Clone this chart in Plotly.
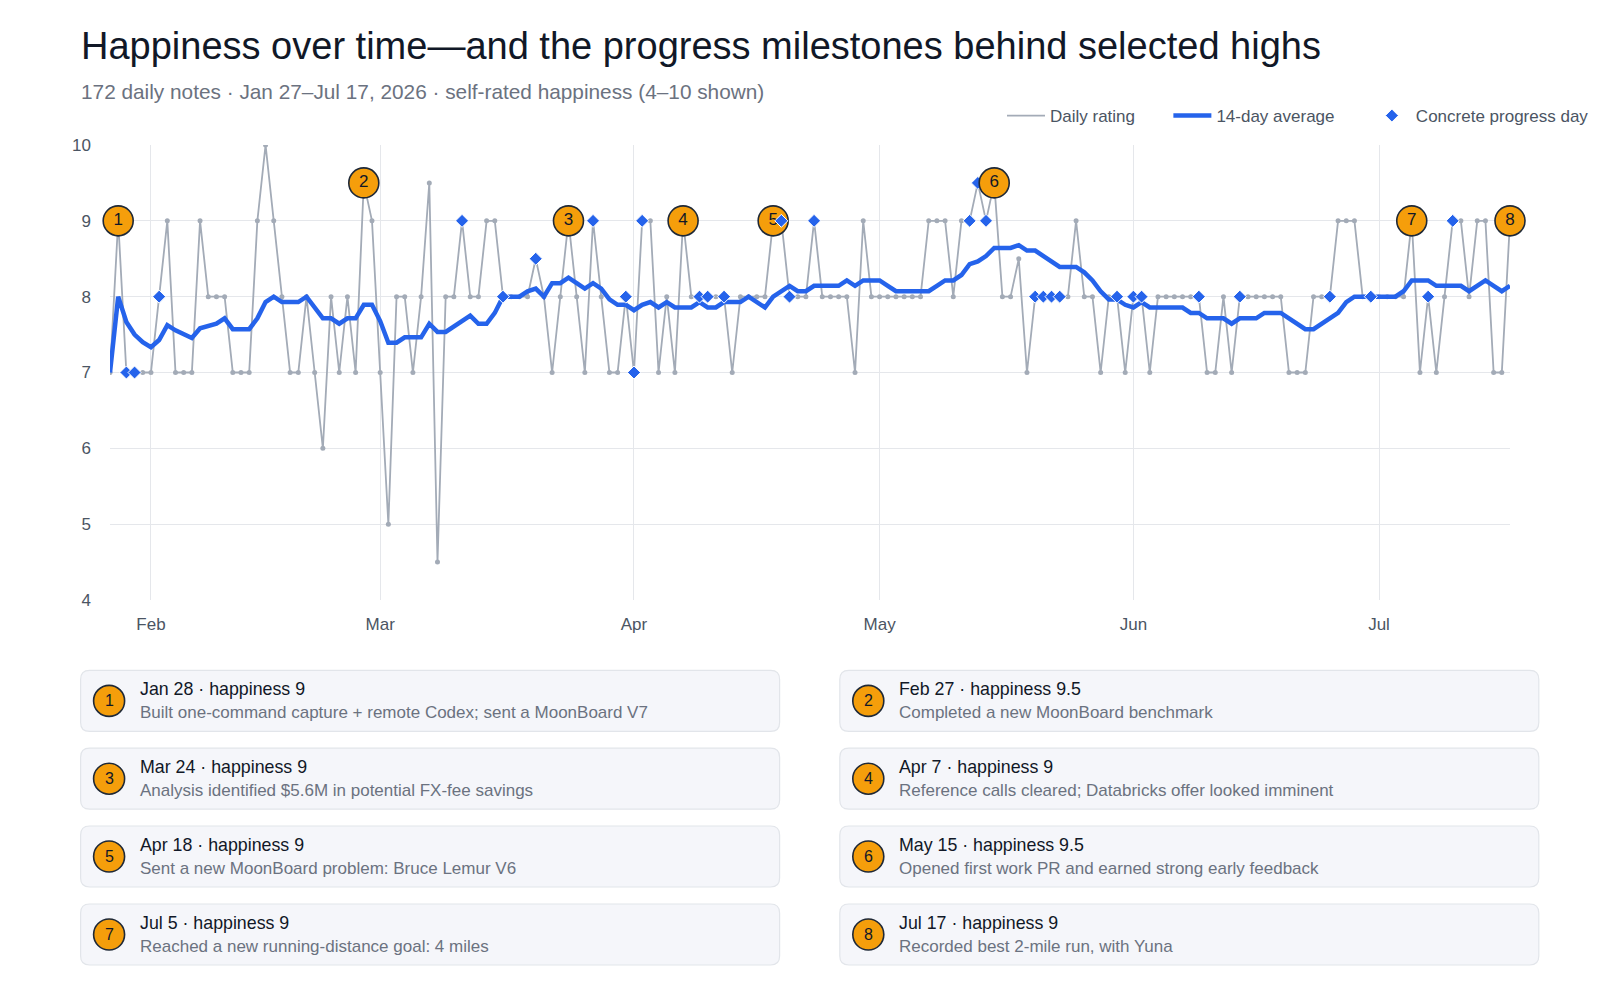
import pandas as pd
import plotly.graph_objects as go

# ---------------- data ----------------
start_date = "2026-01-27"
daily_rating = [
    7, 9, 7, 7, 7, 7, 8, 9, 7, 7,
    7, 9, 8, 8, 8, 7, 7, 7, 9, 10,
    9, 8, 7, 7, 8, 7, 6, 8, 7, 8,
    7, 9.5, 9, 7, 5, 8, 8, 7, 8, 9.5,
    4.5, 8, 8, 9, 8, 8, 9, 9, 8, 8,
    8, 8, 8.5, 8, 7, 8, 9, 8, 7, 9,
    8, 7, 7, 8, 7, 9, 9, 7, 8, 7,
    9, 8, 8, 8, 8, 8, 7, 8, 8, 8,
    8, 9, 9, 8, 8, 8, 9, 8, 8, 8,
    8, 7, 9, 8, 8, 8, 8, 8, 8, 8,
    9, 9, 9, 8, 9, 9, 9.5, 9, 9.5, 8,
    8, 8.5, 7, 8, 8, 8, 8, 8, 9, 8,
    8, 7, 8, 8, 7, 8, 8, 7, 8, 8,
    8, 8, 8, 8, 7, 7, 8, 7, 8, 8,
    8, 8, 8, 8, 7, 7, 7, 8, 8, 8,
    9, 9, 9, 8, 8, 8, 8, 8, 8, 9,
    7, 8, 7, 8, 9, 9, 8, 9, 9, 7,
    7, 9,
]
progress_days = [
    "2026-01-29", "2026-01-30", "2026-02-02", "2026-03-11", "2026-03-16",
    "2026-03-20", "2026-03-27", "2026-03-31", "2026-04-01", "2026-04-02",
    "2026-04-09", "2026-04-10", "2026-04-12", "2026-04-19", "2026-04-20",
    "2026-04-23", "2026-05-12", "2026-05-13", "2026-05-14", "2026-05-20",
    "2026-05-21", "2026-05-22", "2026-05-23", "2026-05-30", "2026-06-01",
    "2026-06-02", "2026-06-09", "2026-06-14", "2026-06-25", "2026-06-30",
    "2026-07-07", "2026-07-10",
]
milestone_dates = ["2026-01-28", "2026-02-27", "2026-03-24", "2026-04-07",
                   "2026-04-18", "2026-05-15", "2026-07-05", "2026-07-17"]
milestone_values = [9, 9.5, 9, 9, 9, 9.5, 9, 9]
milestone_labels = ["Jan 28", "Feb 27", "Mar 24", "Apr 7", "Apr 18", "May 15", "Jul 5", "Jul 17"]
milestone_notes = [
    "Built one-command capture + remote Codex; sent a MoonBoard V7",
    "Completed a new MoonBoard benchmark",
    "Analysis identified $5.6M in potential FX-fee savings",
    "Reference calls cleared; Databricks offer looked imminent",
    "Sent a new MoonBoard problem: Bruce Lemur V6",
    "Opened first work PR and earned strong early feedback",
    "Reached a new running-distance goal: 4 miles",
    "Recorded best 2-mile run, with Yuna",
]
y_ticks = [4, 5, 6, 7, 8, 9, 10]

# ---------------- derived ----------------
dates = pd.date_range(start_date, periods=len(daily_rating), freq="D")
s = pd.Series(daily_rating, index=dates)
avg14 = s.rolling(14, min_periods=1).mean()
prog_idx = pd.to_datetime(progress_days)
prog_vals = s.loc[prog_idx]
ms_x = pd.to_datetime(milestone_dates)
ms_text = [str(i + 1) for i in range(len(milestone_dates))]

FONT = "Liberation Sans, Arial, Helvetica, sans-serif"
W, H = 1600, 1000
L, R, T, B = 110, 1510, 145, 600  # plot area in px
NB = "\u00a0"


def px_x(px):
    return (px - L) / (R - L)


def px_y(py):
    return (B - py) / (B - T)


GRAY = "#A3ABB7"
BLUE = "#2563EB"
ORANGE = "#F59E0B"
DARK = "#1F2937"

fig = go.Figure()
fig.add_trace(go.Scatter(
    x=dates, y=daily_rating, mode="lines", name="Daily rating" + NB * 6,
    line=dict(color=GRAY, width=1.8), hoverinfo="skip",
))
fig.add_trace(go.Scatter(
    x=dates, y=daily_rating, mode="markers", showlegend=False,
    marker=dict(color=GRAY, size=5), hoverinfo="skip",
))
fig.add_trace(go.Scatter(
    x=dates, y=avg14.values, mode="lines", name="14-day average" + NB * 6,
    line=dict(color=BLUE, width=4.5),
))

ms_marker = dict(color=ORANGE, size=30, line=dict(color=DARK, width=1.6))
ms_font = dict(family=FONT, size=17, color="#111827")
# milestones 6-8 sit above the diamonds, 1-5 below (as in the source)
fig.add_trace(go.Scatter(
    x=ms_x[:5], y=milestone_values[:5], mode="markers+text", text=ms_text[:5],
    textposition="middle center", textfont=ms_font, marker=ms_marker,
    showlegend=False, cliponaxis=False,
))
fig.add_trace(go.Scatter(
    x=prog_idx, y=prog_vals.values, mode="markers", name="Concrete progress day",
    marker=dict(symbol="diamond", color=BLUE, size=10,
                line=dict(color="white", width=1)),
    cliponaxis=False,
))
fig.add_trace(go.Scatter(
    x=ms_x[5:], y=milestone_values[5:], mode="markers+text", text=ms_text[5:],
    textposition="middle center", textfont=ms_font, marker=ms_marker,
    showlegend=False, cliponaxis=False,
))

shapes = []
annotations = []

# title & subtitle
annotations.append(dict(
    text="Happiness over time\u2014and the progress milestones behind selected highs",
    xref="paper", yref="paper", x=px_x(79), y=px_y(46), xanchor="left", yanchor="middle",
    showarrow=False, font=dict(family=FONT, size=38, color="#111827"),
))
annotations.append(dict(
    text="172 daily notes \u00b7 Jan 27\u2013Jul 17, 2026 \u00b7 self-rated happiness (4\u201310 shown)",
    xref="paper", yref="paper", x=px_x(79), y=px_y(91), xanchor="left", yanchor="middle",
    showarrow=False, font=dict(family=FONT, size=20.8, color="#6B7280"),
))

# milestone cards
card_w = 699
card_h = 61
col_x = [80.6, 839.8]
row_y = [670.4, 748.2, 826.0, 904.0]
rad = 9
for k in range(len(milestone_dates)):
    cx0 = col_x[k % 2]
    cy0 = row_y[k // 2]
    cx1 = cx0 + card_w
    cy1 = cy0 + card_h
    x0, x1 = px_x(cx0), px_x(cx1)
    y0, y1 = px_y(cy0), px_y(cy1)
    rx = rad / (R - L)
    ry = rad / (B - T)
    path = (f"M{x0 + rx},{y0} L{x1 - rx},{y0} Q{x1},{y0} {x1},{y0 - ry} "
            f"L{x1},{y1 + ry} Q{x1},{y1} {x1 - rx},{y1} L{x0 + rx},{y1} "
            f"Q{x0},{y1} {x0},{y1 + ry} L{x0},{y0 - ry} Q{x0},{y0} {x0 + rx},{y0} Z")
    shapes.append(dict(type="path", path=path, xref="paper", yref="paper",
                       fillcolor="#F5F6FA", line=dict(color="#E2E5EA", width=1.2),
                       layer="below"))
    bx = cx0 + 28.5
    by = cy0 + card_h / 2
    shapes.append(dict(type="circle", xref="paper", yref="paper",
                       xsizemode="pixel", ysizemode="pixel",
                       xanchor=px_x(bx), yanchor=px_y(by),
                       x0=-15.5, x1=15.5, y0=-15.5, y1=15.5,
                       fillcolor=ORANGE, line=dict(color=DARK, width=1.6)))
    annotations.append(dict(
        text=str(k + 1), xref="paper", yref="paper", x=px_x(bx), y=px_y(by),
        xanchor="center", yanchor="middle", showarrow=False,
        font=dict(family=FONT, size=16, color="#111827"),
    ))
    annotations.append(dict(
        text=f"{milestone_labels[k]} \u00b7 happiness {milestone_values[k]:g}",
        xref="paper", yref="paper", x=px_x(cx0 + 57), y=px_y(cy0 + 19),
        xanchor="left", yanchor="middle", showarrow=False,
        font=dict(family=FONT, size=17.8, color="#111827"),
    ))
    annotations.append(dict(
        text=milestone_notes[k],
        xref="paper", yref="paper", x=px_x(cx0 + 57), y=px_y(cy0 + 42),
        xanchor="left", yanchor="middle", showarrow=False,
        font=dict(family=FONT, size=17, color="#6B7280"),
    ))

fig.update_layout(
    width=W, height=H,
    margin=dict(l=L, r=W - R, t=T, b=H - B, pad=0, autoexpand=False),
    paper_bgcolor="white", plot_bgcolor="white",
    font=dict(family=FONT, size=16.5, color="#4B5563"),
    showlegend=True,
    legend=dict(orientation="h", x=px_x(1002), y=px_y(116), xanchor="left", yanchor="middle",
                font=dict(family=FONT, size=17, color="#4B5563"),
                itemwidth=38,
                bgcolor="rgba(0,0,0,0)"),
    shapes=shapes,
    annotations=annotations,
    hovermode="closest",
)
fig.update_xaxes(
    range=[dates[0], dates[-1]], type="date",
    dtick="M1", tick0="2026-01-01", tickformat="%b",
    showgrid=True, gridcolor="#E5E7EB", gridwidth=1.2,
    zeroline=False, showline=False, ticks="",
    ticklabelstandoff=12, automargin=False,
    tickfont=dict(family=FONT, size=17, color="#4B5563"),
)
fig.update_yaxes(
    range=[4, 10], tickvals=y_ticks,
    showgrid=True, gridcolor="#E5E7EB", gridwidth=1.2,
    zeroline=False, showline=False, ticks="",
    ticklabelstandoff=18, automargin=False,
    tickfont=dict(family=FONT, size=17, color="#4B5563"),
)

fig.write_html("out.html")
